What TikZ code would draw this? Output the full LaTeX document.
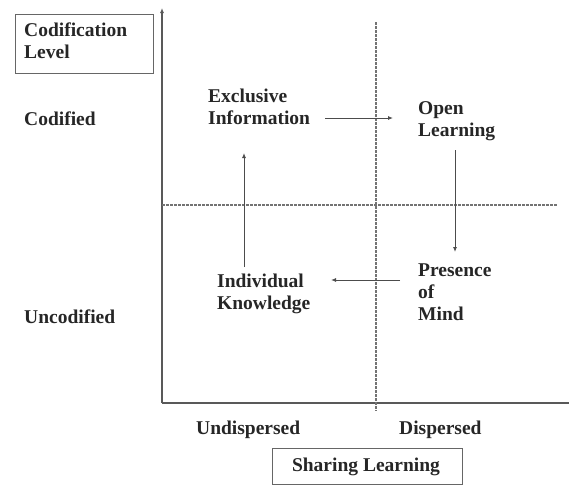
\documentclass[tikz,border=0pt]{standalone}
\usepackage{fontspec}
\setmainfont{Liberation Serif}
\usetikzlibrary{arrows.meta}
\begin{document}
\begin{tikzpicture}[x=1pt,y=-1pt,
  lbl/.style={font=\fontsize{19.5}{22}\selectfont\bfseries, text=black!85, align=left, inner sep=0pt, anchor=west},
  axis/.style={draw=black!65, line width=1.2pt},
  grid/.style={draw=black!55, line width=1.2pt, dash pattern=on 2.5pt off 1.5pt},
  flow/.style={draw=black!70, line width=0.9pt, -{Latex[length=5pt,width=4pt]}},
  framebox/.style={draw=black!60, line width=1.1pt}]
\useasboundingbox (0,0) rectangle (569,485);
% axes
\coordinate (O) at (162,403);
\coordinate (Ytop) at (162,8);
\coordinate (Xend) at (569,403);
\draw[axis,-{Latex[length=5pt,width=4pt]}] (O) -- (Ytop);
\draw[axis] (O) -- (Xend);
% dashed grid lines
\coordinate (Vt) at (376,22);
\coordinate (Vb) at (376,411);
\coordinate (Hl) at (162,205);
\coordinate (Hr) at (558,205);
\draw[grid] (Vt) -- (Vb);
\draw[grid] (Hl) -- (Hr);
% boxes
\node[framebox, minimum width=138pt, minimum height=59pt, anchor=north west, inner sep=0pt] (cl) at (15,14) {};
\node[lbl] (cltext) at (24,41) {Codification\\Level};
\node[framebox, minimum width=190pt, minimum height=36pt, anchor=north west, inner sep=0pt] (sl) at (272,448) {};
\node[lbl, anchor=center] (sltext) at (366,467) {Sharing Learning};
% axis labels
\node[lbl] (cod) at (24,119) {Codified};
\node[lbl] (uncod) at (24,317) {Uncodified};
\node[lbl] (undisp) at (196,430) {Undispersed};
\node[lbl] (disp) at (399,430) {Dispersed};
% quadrant labels
\node[lbl] (ei) at (208,107) {Exclusive\\Information};
\node[lbl] (ol) at (418,121) {Open\\Learning};
\node[lbl] (pm) at (418,292) {Presence\\of\\Mind};
\node[lbl] (ik) at (217,294) {Individual\\Knowledge};
% flow arrows
\coordinate (a1s) at (325,118);
\coordinate (a1e) at (393,118);
\coordinate (a2s) at (455,150);
\coordinate (a2e) at (455,252);
\coordinate (a3s) at (400,280);
\coordinate (a3e) at (331,280);
\coordinate (a4s) at (244,267);
\coordinate (a4e) at (244,153);
\draw[flow] (a1s) -- (a1e);
\draw[flow] (a2s) -- (a2e);
\draw[flow] (a3s) -- (a3e);
\draw[flow] (a4s) -- (a4e);
\end{tikzpicture}
\end{document}
